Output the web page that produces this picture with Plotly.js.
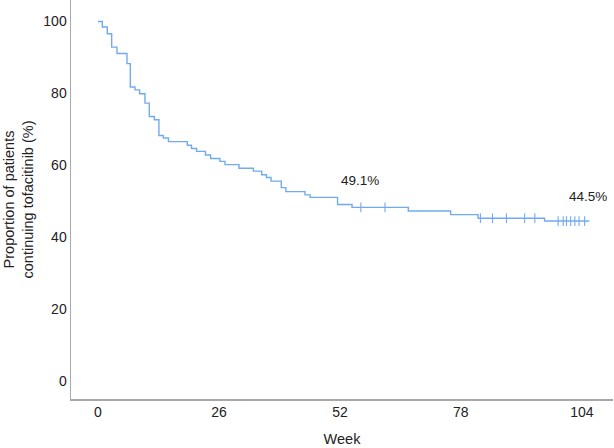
<!DOCTYPE html>
<html>
<head>
<meta charset="utf-8">
<script src="https://cdn.plot.ly/plotly-3.0.1.min.js"></script>
<style>html,body{margin:0;padding:0;background:#fff;}#chart{width:614px;height:448px;}</style>
</head>
<body>
<div id="chart"></div>
<script>
// Kaplan-Meier step points (week, % continuing)
const stepWeeks = [0, 0.93, 2.0, 2.94, 4.08, 6.23, 6.95, 7.95, 8.95, 10.1, 11.03, 12.1, 13.1, 14.04, 15.15,
  19.2, 20.1, 21.2, 23.1, 24.2, 26.2, 27.3, 30.3, 33.4, 35.2, 36.2, 37.2, 39.4, 40.4, 44.5, 45.6,
  51.5, 54.6, 66.7, 75.8, 81.7, 96.0, 105.6];
const stepValues = [100, 98.5, 96.6, 92.9, 91.1, 88.3, 81.8, 81.0, 79.9, 77.3, 73.6, 72.7, 68.3, 67.6, 66.6,
  65.6, 64.7, 63.9, 62.9, 61.9, 61.1, 60.2, 59.2, 58.4, 57.4, 56.6, 55.6, 53.8, 52.7, 51.8, 51.1,
  49.1, 48.3, 47.3, 46.3, 45.3, 44.5, 44.5];
// Censored observations
const censorWeeks = [56.5, 61.7, 82.2, 84.8, 87.8, 91.7, 93.9, 98.9, 100.0, 100.7, 101.6, 102.5, 103.4, 104.6];
const censorValues = [48.3, 48.3, 45.3, 45.3, 45.3, 45.3, 45.3, 44.5, 44.5, 44.5, 44.5, 44.5, 44.5, 44.5];
// Axis ticks
const xTicks = [0, 26, 52, 78, 104];
const yTicks = [0, 20, 40, 60, 80, 100];
// Labels
const labelTexts = ['49.1%', '44.5%'];
const labelWeeks = [56.3, 105.4];
const labelValues = [55.9, 51.3];

const lineColor = '#72aaf0';
const fam = 'Liberation Sans, Arial, sans-serif';
const tickFont = {family: fam, size: 14, color: '#222'};
const titleFont = {family: fam, size: 14.5, color: '#222'};
const labelFont = {family: fam, size: 13.5, color: '#222'};

const traces = [
  {x: stepWeeks, y: stepValues, type: 'scatter', mode: 'lines',
   line: {shape: 'hv', color: lineColor, width: 1.4}, hoverinfo: 'skip'},
  {x: censorWeeks, y: censorValues, type: 'scatter', mode: 'markers',
   marker: {symbol: 'line-ns', size: 7, line: {color: lineColor, width: 1.1}}, hoverinfo: 'skip'}
];

const layout = {
  width: 614, height: 448,
  margin: {l: 71, r: 1, t: 0, b: 49},
  paper_bgcolor: '#fff', plot_bgcolor: '#fff',
  showlegend: false,
  font: tickFont,
  xaxis: {range: [-5.8, 110.7], tickvals: xTicks, ticktext: xTicks.map(String),
    showgrid: false, zeroline: false, showline: true, linecolor: '#a8a8a8', linewidth: 1.5,
    ticks: '', tickfont: tickFont,
    title: {text: 'Week', font: titleFont, standoff: 14}},
  yaxis: {range: [-5, 106], tickvals: yTicks, ticktext: yTicks.map(String),
    showgrid: false, zeroline: false, showline: true, linecolor: '#a8a8a8', linewidth: 1.5,
    ticks: '', tickfont: tickFont,
    title: {text: 'Proportion of patients<br>continuing tofacitinib (%)', font: titleFont, standoff: 6}},
  annotations: labelTexts.map((t, i) => ({x: labelWeeks[i], y: labelValues[i], text: t, showarrow: false,
    xanchor: 'center', yanchor: 'middle', font: labelFont}))
};

Plotly.newPlot('chart', traces, layout, {displayModeBar: false, staticPlot: true});
</script>
</body>
</html>
